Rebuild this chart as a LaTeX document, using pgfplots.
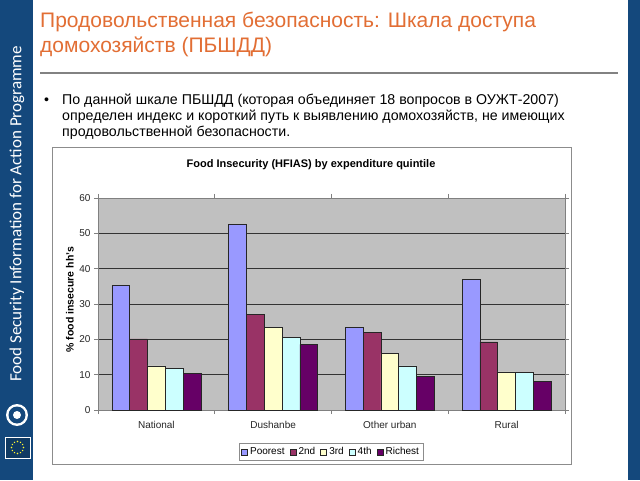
\documentclass[border=0pt]{standalone}
\usepackage{pgfplots}
\pgfplotsset{compat=1.18}
\usepackage{fontspec}
\setmainfont{Liberation Sans}
\newfontfamily\carlito{Carlito}
\definecolor{slideblue}{RGB}{20,72,124}
\definecolor{titleorange}{RGB}{226,110,52}
\definecolor{cPoor}{RGB}{153,153,255}
\definecolor{cSecond}{RGB}{153,51,102}
\definecolor{cThird}{RGB}{255,255,204}
\definecolor{cFourth}{RGB}{204,255,255}
\definecolor{cRich}{RGB}{102,0,102}
\definecolor{plotbg}{RGB}{192,192,192}
\definecolor{rulegray}{RGB}{130,130,130}
\begin{document}
\begin{tikzpicture}[x=1pt,y=1pt]
% slide background
\fill[white] (0,0) rectangle (640,480);
\fill[slideblue] (0,0) rectangle (33,480);
\fill[slideblue] (628,0) rectangle (640,480);
\node[rotate=90, text=white, font=\carlito\fontsize{17}{17}\selectfont] at (17,266) {Food Security Information for Action Programme};
% logos
\fill[white] (17,65) circle (11);
\fill[slideblue] (17,65) circle (8.5);
\fill[white] (17,65) circle (4);
\draw[white, line width=0.8] (5,22) rectangle (30,43);
\fill[slideblue!80!black] (5.5,22.5) rectangle (29.5,42.5);
\foreach \a in {0,30,...,330} \fill[yellow!80!white] ({17.5+6*cos(\a)},{32.5+6*sin(\a)}) circle (0.8);
% title
\node[anchor=base west, inner sep=0, text=titleorange, font=\fontsize{21}{21}\selectfont] at (40,452) {Продовольственная безопасность: Шкала доступа};
\node[anchor=base west, inner sep=0, text=titleorange, font=\fontsize{21}{21}\selectfont] at (40,427) {домохозяйств (ПБШДД)};
\draw[rulegray, line width=2.5] (40,407) -- (618,407);
% bullet text
\node[anchor=base west, inner sep=0, font=\fontsize{14.2}{14.2}\selectfont] at (44,375) {•};
\node[anchor=base west, inner sep=0, font=\fontsize{14.2}{14.2}\selectfont] at (62,375) {По данной шкале ПБШДД (которая объединяет 18 вопросов в ОУЖТ-2007)};
\node[anchor=base west, inner sep=0, font=\fontsize{14.2}{14.2}\selectfont] at (62,359) {определен индекс и короткий путь к выявлению домохозяйств, не имеющих};
\node[anchor=base west, inner sep=0, font=\fontsize{14.2}{14.2}\selectfont] at (62,343) {продовольственной безопасности.};
% chart frame
\draw[fill=white, draw=black!45, line width=0.8] (52,16) rectangle (571,333);
\node[font=\bfseries\fontsize{11}{11}\selectfont] at (311,315) {Food Insecurity (HFIAS) by expenditure quintile};
\begin{axis}[
  at={(98pt,70pt)}, anchor=south west,
  scale only axis, width=467pt, height=212pt,
  ybar=0pt, bar width=17.8pt,
  xmin=-0.5, xmax=3.5, ymin=0, ymax=60,
  xtick={0,1,2,3},
  xticklabels={National,Dushanbe,Other urban,Rural},
  minor xtick={-0.5,0.5,1.5,2.5,3.5},
  ytick={0,10,20,30,40,50,60},
  /pgf/number format/assume math mode=true,
  major x tick style={draw=none},
  minor tick length=4pt,
  major tick length=4pt,
  tick align=outside,
  tick style={draw=black!50, line width=0.6pt},
  axis background/.style={fill=plotbg},
  axis line style={draw=black!50, line width=0.8pt},
  ymajorgrids, major grid style={draw=black!80, line width=0.6pt},
  tick label style={font=\fontsize{10}{10}\selectfont, text=black!85},
  xticklabel style={yshift=-4pt},
  ylabel={\% food insecure hh's},
  every axis y label/.style={at={(axis description cs:-0.06,0.52)}, rotate=90, anchor=center, font=\bfseries\fontsize{10.5}{10.5}\selectfont},
  legend columns=5,
  legend style={at={(0.499,-0.198)}, anchor=center, draw=black!45, font=\fontsize{10}{10}\selectfont, inner sep=2pt,
    /tikz/every odd column/.append style={column sep=0.5pt},
    /tikz/every even column/.append style={column sep=3pt}},
  legend image code/.code={\draw[#1, line width=0.5pt] (0pt,-3pt) rectangle (6pt,3pt);},
  every axis plot/.append style={draw=black!85, line width=0.6pt},
  clip=false,
]
\addplot[fill=cPoor] coordinates {(0,35.2) (1,52.5) (2,23.3) (3,37.0)};
\addplot[fill=cSecond] coordinates {(0,20.1) (1,27.1) (2,21.9) (3,19.3)};
\addplot[fill=cThird] coordinates {(0,12.5) (1,23.3) (2,16.0) (3,10.8)};
\addplot[fill=cFourth] coordinates {(0,11.8) (1,20.6) (2,12.5) (3,10.7)};
\addplot[fill=cRich] coordinates {(0,10.3) (1,18.6) (2,9.5) (3,8.0)};
\legend{Poorest,2nd,3rd,4th,Richest}
\end{axis}
\end{tikzpicture}
\end{document}
